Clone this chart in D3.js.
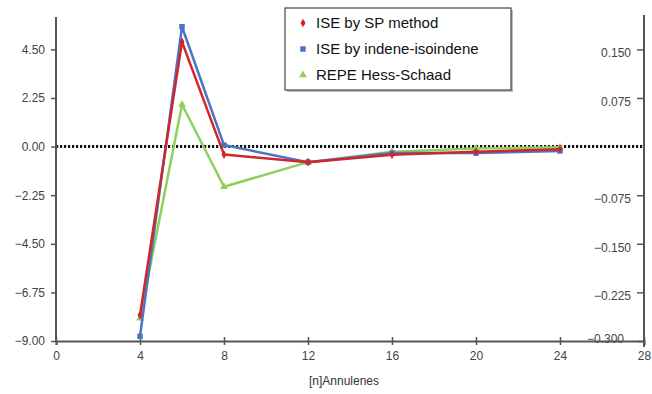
<!DOCTYPE html>
<html>
<head>
<meta charset="utf-8">
<script src="https://cdn.jsdelivr.net/npm/d3@7"></script>
<style>
  body { margin: 0; background: #fff; }
  text { font-family: "Liberation Sans", Arial, sans-serif; }
</style>
</head>
<body>
<script>
// annulene ring sizes
var ringSizes = [4, 6, 8, 12, 16, 20, 24];

// ISE values (left axis, kcal/mol)
var iseSP = [-7.8, 4.85, -0.37, -0.72, -0.38, -0.24, -0.12];
var iseIndene = [-8.78, 5.55, 0.07, -0.72, -0.3, -0.3, -0.2];

// REPE Hess-Schaad values (right axis, beta)
var repeHS = [-0.265, 0.065, -0.062, -0.024, -0.008, -0.003, -0.001];

var xTicks = [0, 4, 8, 12, 16, 20, 24, 28];
var leftTicks = [-9, -6.75, -4.5, -2.25, 0, 2.25, 4.5];
var rightTicks = [-0.3, -0.225, -0.15, -0.075, 0.075, 0.15];

var seriesNames = ['ISE by SP method', 'ISE by indene-isoindene', 'REPE Hess-Schaad'];
var seriesColors = ['#d0262b', '#4a74c6', '#8fd05a'];

var svgW = 652, svgH = 394;
var plot = {left: 56, right: 644, top: 17, bottom: 341};

var svg = d3.select('body')
    .append('svg')
    .attr('width', svgW)
    .attr('height', svgH);

var x = d3.scaleLinear().domain([0, 28]).range([plot.left, plot.right]);
var yL = d3.scaleLinear().domain([-9, 6]).range([plot.bottom, plot.top]);
var yR = d3.scaleLinear().domain([-0.3, 0.2]).range([plot.bottom, plot.top]);

var axisColor = '#555';
var labelColor = '#444';

//zero line, dotted
svg.append('line')
    .attr('x1', plot.left)
    .attr('x2', plot.right)
    .attr('y1', yL(0))
    .attr('y2', yL(0))
    .style('stroke', '#111')
    .style('stroke-width', 3)
    .style('stroke-dasharray', '2.2,1.8');

//left axis
var leftAxis = svg.append('g')
    .attr('transform', 'translate(' + plot.left + ',0)')
    .call(d3.axisLeft(yL).tickValues(leftTicks).tickSize(5).tickPadding(6)
        .tickFormat(d3.format('.2f')));

//right axis (ticks and labels inside)
var rightAxis = svg.append('g')
    .attr('transform', 'translate(' + plot.right + ',0)')
    .call(d3.axisLeft(yR).tickValues(rightTicks).tickSize(7).tickPadding(6)
        .tickFormat(d3.format('.3f')));
rightAxis.selectAll('.tick text').attr('dy', '0.62em');
rightAxis.selectAll('.tick').filter(function (d) { return d === -0.3; })
    .select('text').attr('dy', '0.1em').attr('x', -20);

//bottom axis
var bottomAxis = svg.append('g')
    .attr('transform', 'translate(0,' + plot.bottom + ')')
    .call(d3.axisBottom(x).tickValues(xTicks).tickSize(4).tickPadding(6)
        .tickFormat(d3.format('d')));
bottomAxis.selectAll('.tick line').attr('y1', -4);

[leftAxis, rightAxis, bottomAxis].forEach(function (a) {
    a.select('.domain').style('stroke', axisColor).style('stroke-width', 2);
    a.selectAll('.tick line').style('stroke', axisColor).style('stroke-width', 1.5);
    a.selectAll('.tick text').style('fill', labelColor).style('font-size', '12px');
});
leftAxis.select('.domain').attr('d', 'M0,' + plot.top + 'V' + plot.bottom);
rightAxis.select('.domain').attr('d', 'M0,' + (plot.top - 2) + 'V' + (plot.bottom + 6));

//x axis title
svg.append('text')
    .attr('x', 344)
    .attr('y', 385)
    .attr('text-anchor', 'middle')
    .text('[n]Annulenes')
    .style('font-size', '12px')
    .style('fill', '#333');

//series
var series = [
    {name: seriesNames[0], values: iseSP, y: yL, color: seriesColors[0], symbol: d3.symbolDiamond, size: 22},
    {name: seriesNames[1], values: iseIndene, y: yL, color: seriesColors[1], symbol: d3.symbolSquare, size: 30},
    {name: seriesNames[2], values: repeHS, y: yR, color: seriesColors[2], symbol: d3.symbolTriangle, size: 26}
];

var drawOrder = [2, 1, 0];
drawOrder.forEach(function (i) {
    var s = series[i];
    var line = d3.line()
        .x(function (d, j) { return x(ringSizes[j]); })
        .y(function (d) { return s.y(d); });
    svg.append('path')
        .datum(s.values)
        .attr('d', line)
        .style('fill', 'none')
        .style('stroke', s.color)
        .style('stroke-width', 2.5)
        .style('stroke-linejoin', 'round');
    svg.append('g').selectAll('path')
        .data(s.values)
        .enter()
        .append('path')
        .attr('d', d3.symbol().type(s.symbol).size(s.size))
        .attr('transform', function (d, j) {
            return 'translate(' + x(ringSizes[j]) + ',' + s.y(d) + ')';
        })
        .style('fill', s.color);
});

//legend
var legend = svg.append('g').attr('transform', 'translate(285,8)');
legend.append('rect')
    .attr('x', 2).attr('y', 2)
    .attr('width', 226).attr('height', 82)
    .style('fill', '#bbb');
legend.append('rect')
    .attr('width', 226).attr('height', 82)
    .style('fill', '#fff')
    .style('stroke', '#444')
    .style('stroke-width', 1.2);

series.forEach(function (s, i) {
    var row = legend.append('g').attr('transform', 'translate(0,' + (15 + i * 26) + ')');
    row.append('path')
        .attr('d', d3.symbol().type(s.symbol).size(s.size))
        .attr('transform', 'translate(18,0)')
        .style('fill', s.color);
    row.append('text')
        .attr('x', 31)
        .attr('y', 0)
        .attr('dy', '0.36em')
        .text(s.name)
        .style('font-size', '15px')
        .style('fill', '#111');
});
</script>
</body>
</html>
